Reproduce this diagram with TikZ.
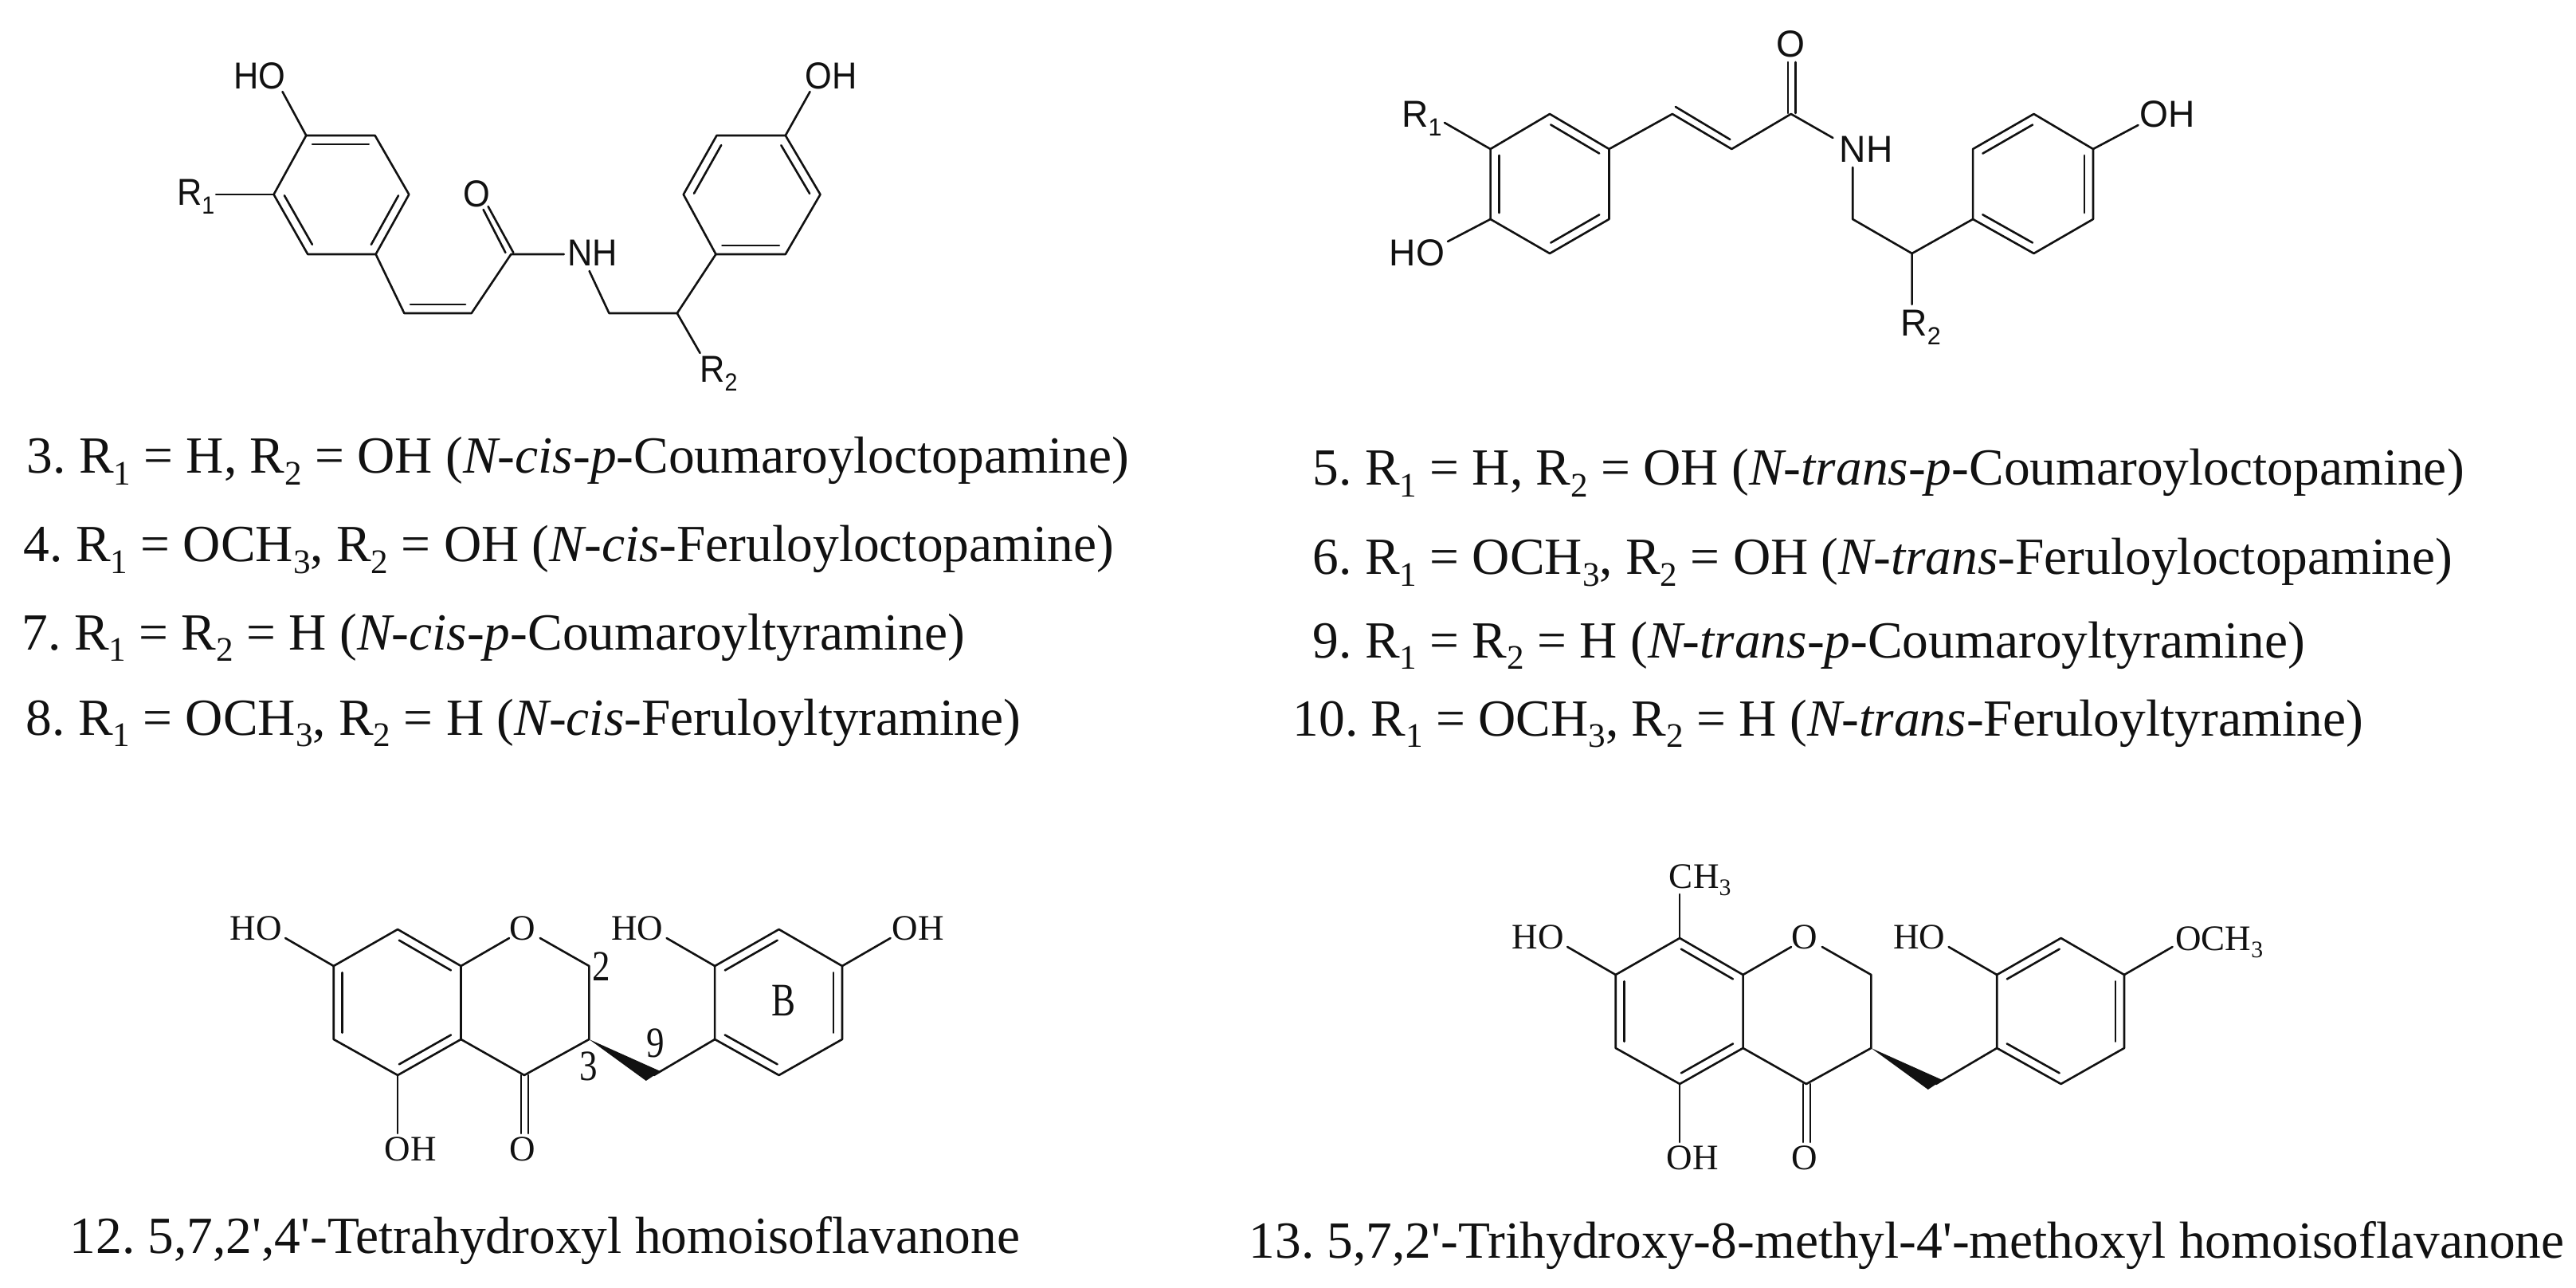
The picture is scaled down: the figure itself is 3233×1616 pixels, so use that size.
\documentclass[tikz,border=0pt]{standalone}
\usepackage{fontspec}
\usetikzlibrary{calc}
\setmainfont{Liberation Serif}
\newfontfamily\sanslabfont{Liberation Sans}
\newcommand\sbs[1]{\raisebox{-.22em}{\scalebox{.66}{#1}}}
\newcommand\pr{\textquotesingle}
\newcommand\sla[1]{\scalebox{\sx}[1]{#1}}
\newcommand\sx{1}
\frenchspacing
\definecolor{ink}{HTML}{111111}
\tikzset{
  bondl/.style={line width=0.026cm,color=ink,line join=round,line cap=round},
  wedgefill/.style={fill=ink,draw=none},
  sanslab/.style={font=\sanslabfont\fontsize{13.4}{15}\selectfont,inner sep=0pt,text=ink},
  serlab/.style={font=\fontsize{12.8}{14}\selectfont,inner sep=0pt,text=ink},
  capt/.style={font=\fontsize{18.6}{20}\selectfont,inner sep=0pt,anchor=base west,text=ink}
}
\newcommand\pts[1]{\foreach \n/\x/\y in {#1}{\coordinate (\n) at (\x,\y);}}
% inner line of a double bond, on the visual right of a->b
\newcommand\inb[3][0.11cm]{\draw[bondl] ($(#2)!.09!(#3)!-#1!90:(#3)$) -- ($(#3)!.09!(#2)!#1!90:(#2)$);}
\newcommand\homo{%
  \pts{a1/501/1166,a2/581/1212,a3/581/1304,a4/501/1349,a5/420/1304,a6/420/1212,
       c2/743/1212,c3/743/1304,c4/661/1349,c9/825/1349,
       b1/902/1212,b2/983/1166,b3/1063/1212,b4/1063/1304,b5/983/1349,b6/902/1304,
       eho/359/1177,eo1/642/1177,eo2/681/1177,eho2/841/1177,eoh/1124/1177,eoh5/501/1422,
       w1/815/1356,w2/833/1344,o1/657/1349,o2/666/1349,o3/657/1422,o4/666/1422}
  \draw[bondl] (a1)--(a2)--(a3)--(a4)--(a5)--(a6)--cycle;
  \inb{a1}{a2}\inb{a3}{a4}\inb{a5}{a6}
  \draw[bondl] (a6)--(eho);
  \draw[bondl] (a2)--(eo1);
  \draw[bondl] (eo2)--(c2)--(c3)--(c4)--(a3);
  \draw[bondl] (a4)--(eoh5);
  \draw[bondl] (o1)--(o3);
  \draw[bondl] (o2)--(o4);
  \fill[wedgefill] (c3)--(w1)--(w2)--cycle;
  \draw[bondl] (c9)--(b6);
  \draw[bondl] (b1)--(b2)--(b3)--(b4)--(b5)--(b6)--cycle;
  \inb{b1}{b2}\inb{b3}{b4}\inb{b5}{b6}
  \draw[bondl] (b1)--(eho2);
  \draw[bondl] (b3)--(eoh);
  \node[serlab] (lho) at (322,1165) {HO};
  \node[serlab] (lo) at (659,1165) {O};
  \node[serlab] (lho2) at (804,1165) {HO};
  \node[serlab] (loh5) at (517,1442) {OH};
  \node[serlab] (lo4) at (659,1442) {O};
}
\begin{document}
\begin{tikzpicture}[x=0.01cm,y=-0.01cm]
\useasboundingbox (0,0) rectangle (3233,1616);
\fill[white] (0,0) rectangle (3233,1616);

% ---------- structure 1 (cis)
\begin{scope}[name prefix=s1-,shift={(1.1,0)},xscale=.9927]
\renewcommand\sx{.92}
\pts{a1/386/170,a2/473/170,a3/516/244,a4/474/319,a5/388/319,a6/345/244,
     eho/356/115,er1/272/244,c1/510/393,c2/595/393,c3/645/319,
     o1/648/317,o2/616/259,o3/638/317,o4/610/263,en/712/319,en2/744/340,
     c4/769/393,c5/855/393,er2/884/443,
     b1/905/170,b2/992/170,b3/1036/244,b4/992/319,b5/904/319,b6/863/244,eoh/1023/115}
\draw[bondl] (a1)--(a2)--(a3)--(a4)--(a5)--(a6)--cycle;
\inb{a1}{a2}\inb{a3}{a4}\inb{a5}{a6}
\draw[bondl] (a1)--(eho);
\draw[bondl] (a6)--(er1);
\draw[bondl] (a4)--(c1)--(c2)--(c3)--(en);
\inb{c2}{c1}
\draw[bondl] (o1)--(o2);
\draw[bondl] (o3)--(o4);
\draw[bondl] (en2)--(c4)--(c5)--(er2);
\draw[bondl] (c5)--(b5);
\draw[bondl] (b1)--(b2)--(b3)--(b4)--(b5)--(b6)--cycle;
\inb{b2}{b3}\inb{b4}{b5}\inb{b6}{b1}
\draw[bondl] (b2)--(eoh);
\node[sanslab] (lho) at (327,95) {\sla{HO}};
\node[sanslab,anchor=base west] (lr1) at (222,258) {\sla{R\sbs{1}}};
\node[sanslab] (lo) at (602,243) {\sla{O}};
\node[sanslab] (lnh) at (748,317) {\sla{NH}};
\node[sanslab,anchor=base west] (lr2) at (883,480) {\sla{R\sbs{2}}};
\node[sanslab] (loh) at (1050,95) {\sla{OH}};
\end{scope}

% ---------- structure 2 (trans)
\begin{scope}[name prefix=s2-,shift={(12.3,0)},xscale=.9927]
\renewcommand\sx{.98}
\pts{a1/1947/143,a2/2022/187,a3/2022/275,a4/1947/318,a5/1872/275,a6/1872/187,
     er1/1814/154,eho/1818/303,c1/2102/143,c2/2177/187,c3/2252/143,
     d1/2106/134,d2/2175/175,o1/2248/142,o2/2248/78,o3/2258/142,o4/2258/78,
     en/2305/173,en2/2330/210,c4/2330/275,c5/2405/318,er2/2405/382,
     b1/2482/187,b2/2559/143,b3/2634/187,b4/2634/275,b5/2559/318,b6/2482/275,eoh/2691/157}
\draw[bondl] (a1)--(a2)--(a3)--(a4)--(a5)--(a6)--cycle;
\inb{a1}{a2}\inb{a3}{a4}\inb{a5}{a6}
\draw[bondl] (a6)--(er1);
\draw[bondl] (a5)--(eho);
\draw[bondl] (a2)--(c1)--(c2)--(c3)--(en);
\draw[bondl] (d1)--(d2);
\draw[bondl] (o1)--(o2);
\draw[bondl] (o3)--(o4);
\draw[bondl] (en2)--(c4)--(c5)--(er2);
\draw[bondl] (c5)--(b6);
\draw[bondl] (b1)--(b2)--(b3)--(b4)--(b5)--(b6)--cycle;
\inb{b1}{b2}\inb{b3}{b4}\inb{b5}{b6}
\draw[bondl] (b3)--(eoh);
\node[sanslab,anchor=base west] (lr1) at (1759,160) {\sla{R\sbs{1}}};
\node[sanslab] (lho) at (1779,317) {\sla{HO}};
\node[sanslab] (lo) at (2252,55) {\sla{O}};
\node[sanslab] (lnh) at (2347,187) {\sla{NH}};
\node[sanslab,anchor=base west] (lr2) at (2390,422) {\sla{R\sbs{2}}};
\node[sanslab] (loh) at (2728,143) {\sla{OH}};
\end{scope}

% ---------- structure 12
\begin{scope}[name prefix=s3-,shift={(1.8,0)},xscale=.9927]
\homo
\node[serlab] (loh) at (1159,1165) {OH};
\node[serlab] (n2) at (758,1213) {\scalebox{1}[1.2]{2}};
\node[serlab] (n3) at (742,1338) {\scalebox{1}[1.2]{3}};
\node[serlab] (n9) at (827,1309) {\scalebox{1}[1.2]{9}};
\node[serlab] (nb) at (989,1255) {\scalebox{1}[1.3]{B}};
\end{scope}

% ---------- structure 13
\begin{scope}[name prefix=s4-,shift={(1610.8,11)},xscale=.9927]
\homo
\coordinate (ech) at (501,1111);
\draw[bondl] (a1)--(ech);
\node[serlab,anchor=base west] (lch) at (487,1103) {CH\sbs{3}};
\node[serlab,anchor=base west] (loch) at (1127,1181) {OCH\sbs{3}};
\end{scope}

% ---------- captions
\node[capt] (t3) at (33,594) {3. R\sbs{1} = H, R\sbs{2} = OH (\textit{N-cis-p}-Coumaroyloctopamine)};
\node[capt] (t4) at (29,705) {4. R\sbs{1} = OCH\sbs{3}, R\sbs{2} = OH (\textit{N-cis}-Feruloyloctopamine)};
\node[capt] (t7) at (27,815) {7. R\sbs{1} = R\sbs{2} = H (\textit{N-cis-p}-Coumaroyltyramine)};
\node[capt] (t8) at (32,922) {8. R\sbs{1} = OCH\sbs{3}, R\sbs{2} = H (\textit{N-cis}-Feruloyltyramine)};
\node[capt] (t5) at (1647,609) {5. R\sbs{1} = H, R\sbs{2} = OH (\textit{N-trans-p}-Coumaroyloctopamine)};
\node[capt] (t6) at (1647,721) {6. R\sbs{1} = OCH\sbs{3}, R\sbs{2} = OH (\textit{N-trans}-Feruloyloctopamine)};
\node[capt] (t9) at (1647,825) {9. R\sbs{1} = R\sbs{2} = H (\textit{N-trans-p}-Coumaroyltyramine)};
\node[capt] (t10) at (1622,923) {10. R\sbs{1} = OCH\sbs{3}, R\sbs{2} = H (\textit{N-trans}-Feruloyltyramine)};
\node[capt] (t12) at (87,1572) {12. 5,7,2\pr,4\pr-Tetrahydroxyl homoisof{}lavanone};
\node[capt] (t13) at (1567,1578) {13. 5,7,2\pr-Trihydroxy-8-methyl-4\pr-methoxyl homoisof{}lavanone};
\end{tikzpicture}
\end{document}
